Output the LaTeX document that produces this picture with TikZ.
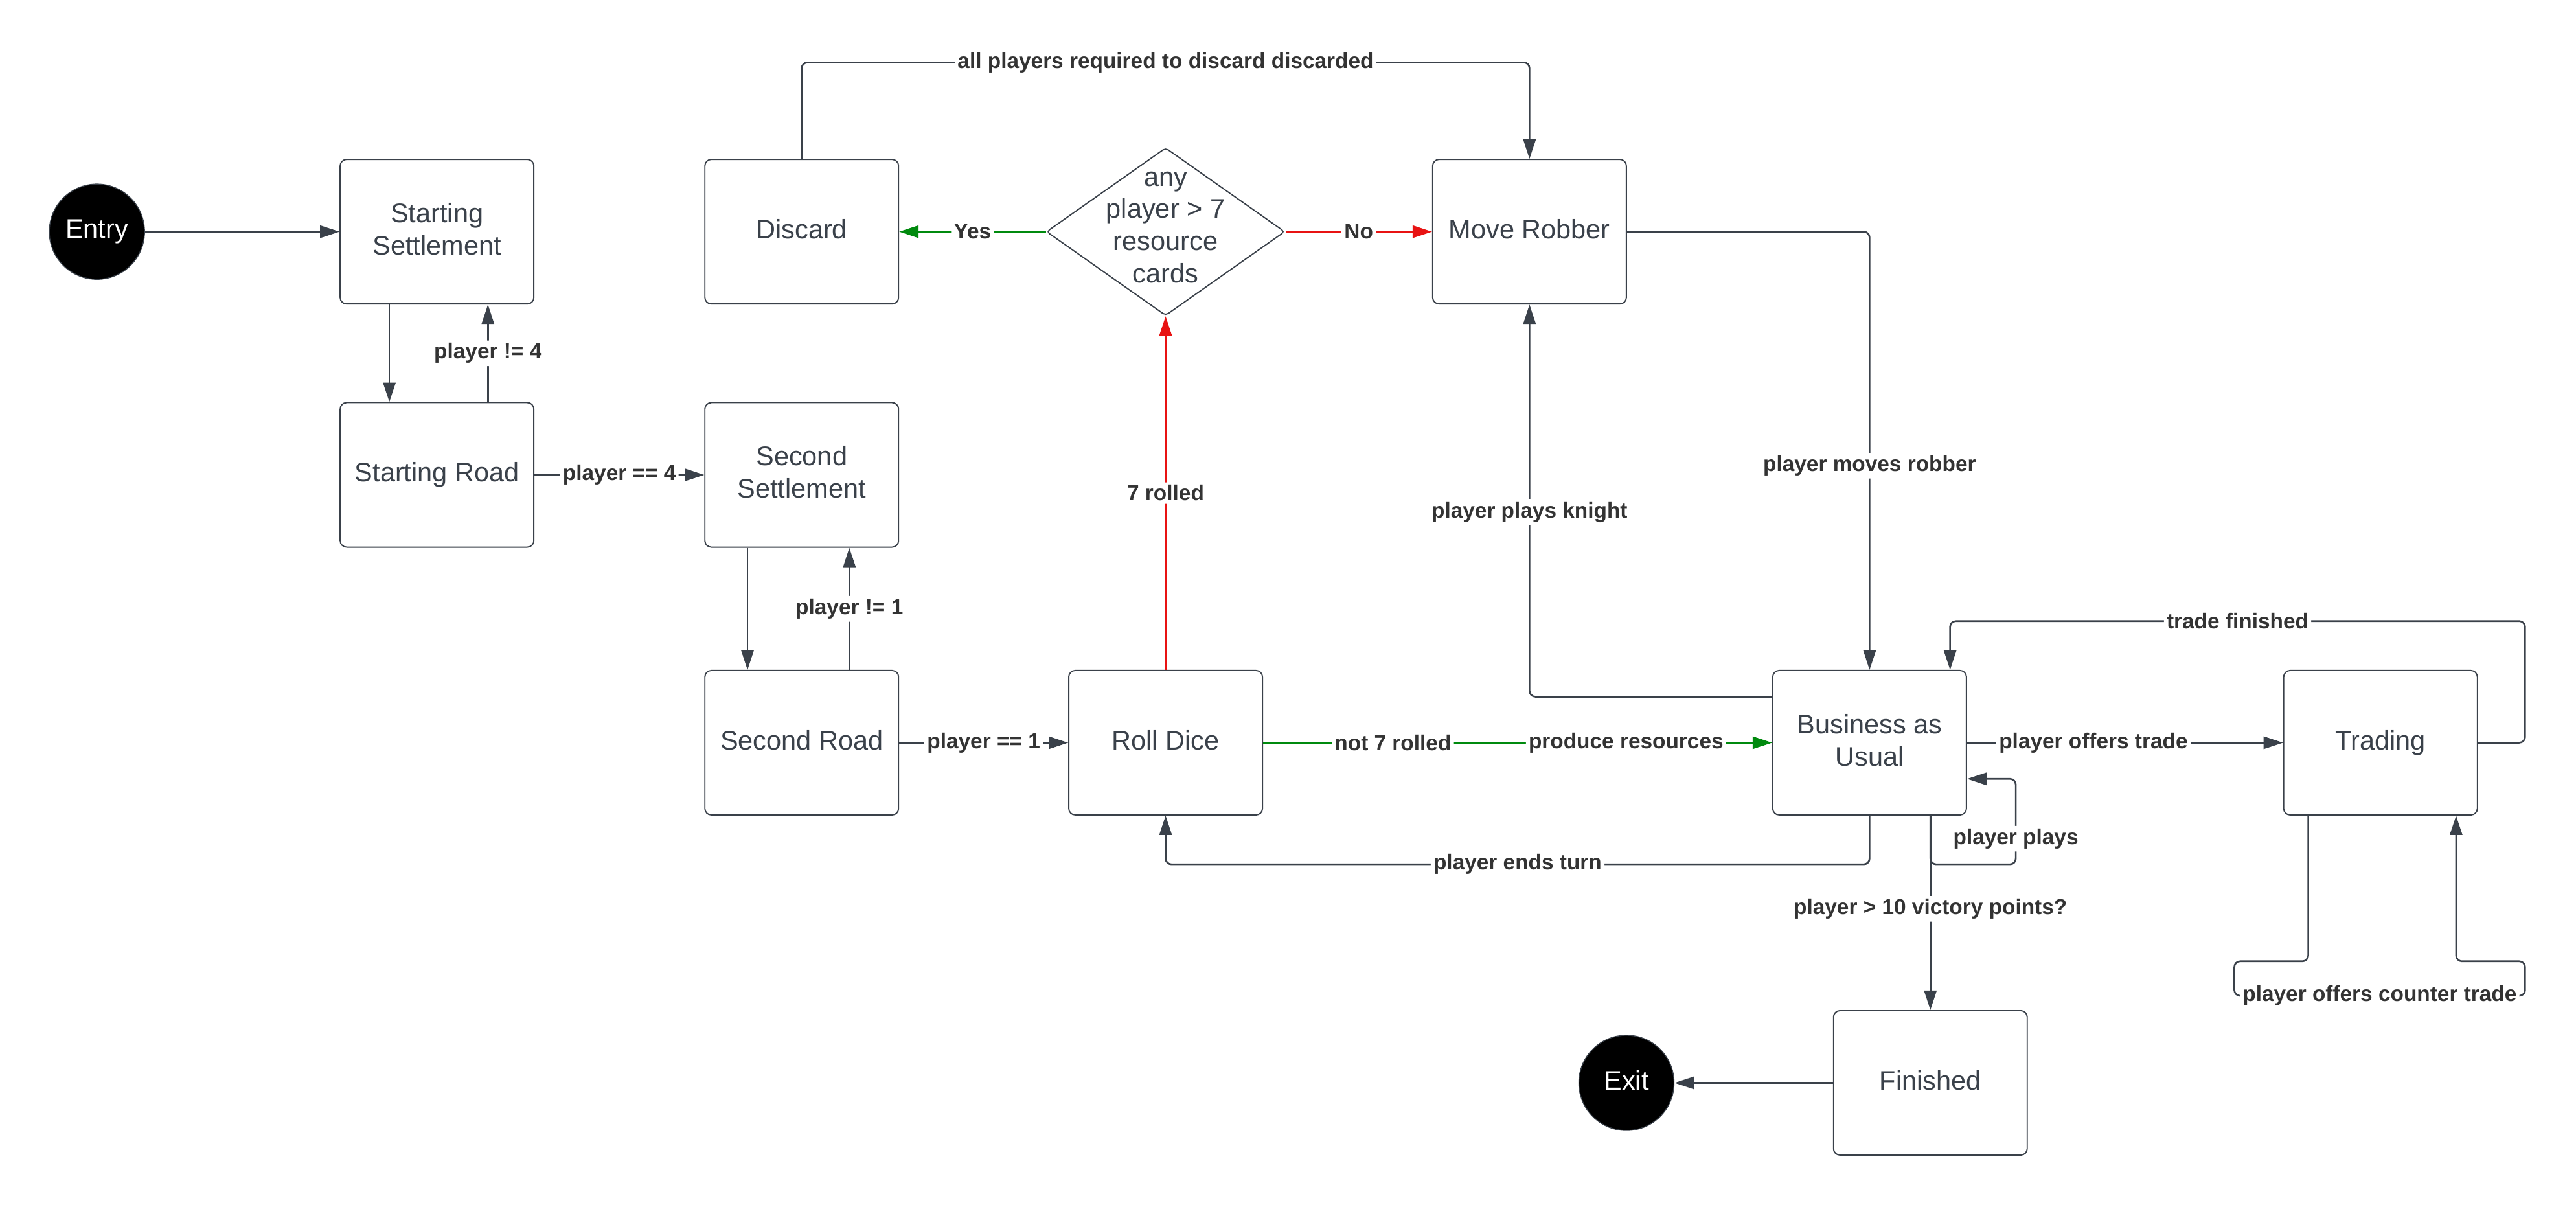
\documentclass[tikz,border=0pt]{standalone}
\usepackage{fontspec}
\setmainfont{Liberation Sans}
\usetikzlibrary{arrows.meta,shapes.geometric}
\definecolor{lc}{HTML}{3A414A}
\definecolor{tc}{HTML}{333333}
\definecolor{yesg}{HTML}{008A0E}
\definecolor{nor}{HTML}{E81313}
\tikzset{
  state/.style={draw=lc, line width=0.55pt, rounded corners=0.1cm, minimum width=2.99cm,
    minimum height=2.23cm, align=center, text=lc, inner sep=2pt, text depth=2.5pt,
    font=\fontsize{11.8}{14.2}\selectfont},
  term/.style={circle, fill=black, draw=lc, line width=0.4pt, minimum size=1.47cm, inner sep=0pt,
    text=white, text depth=2.5pt, font=\fontsize{11.8}{14.2}\selectfont},
  arr/.style={draw=lc, line width=0.75pt, rounded corners=0.09cm,
    -{Triangle[length=0.3cm,width=0.19cm]}},
  lbl/.style={fill=white, text=tc, inner sep=1.2pt, font=\bfseries\fontsize{9.5}{11}\selectfont},
}
\begin{document}
\begin{tikzpicture}[x=0.02536cm, y=-0.02536cm]
\useasboundingbox (0,0) rectangle (1568,733);

% states
\node[term] (entry) at (59,141) {Entry};
\node[state] (ss) at (266,141) {Starting\\Settlement};
\node[state] (sr) at (266,289) {Starting Road};
\node[state] (sset) at (488,289) {Second\\Settlement};
\node[state] (srd) at (488,452) {Second Road};
\node[state] (discard) at (488,141) {Discard};
\node[diamond, draw=lc, line width=0.55pt, rounded corners=0.05cm, inner sep=0pt, aspect=1,
      minimum width=3.68cm, minimum height=2.59cm] (dec) at (709.5,141) {};
\node[align=center, text=lc, text depth=2.5pt, font=\fontsize{11.8}{14.2}\selectfont] (dectext) at (709.5,140) {any\\player > 7\\resource\\cards};
\node[state] (robber) at (931,141) {Move Robber};
\node[state] (roll) at (709.5,452) {Roll Dice};
\node[state] (bau) at (1138,452) {Business as\\Usual};
\node[state] (trading) at (1449,452) {Trading};
\node[state] (finished) at (1175,659) {Finished};
\node[term] (exit) at (990,659) {Exit};

% helper rows
\coordinate (top) at (0,38);
\coordinate (bot) at (0,526);
\coordinate (tf) at (0,378);

% setup phase
\draw[arr] (entry) -- (ss);
\draw[arr] (237,0 |- ss.south) -- (237,0 |- sr.north);
\draw[arr] (297,0 |- sr.north) -- node[lbl]{player != 4} (297,0 |- ss.south);
\draw[arr] (sr) -- node[lbl]{player == 4} (sset);
\draw[arr] (455,0 |- sset.south) -- (455,0 |- srd.north);
\draw[arr] (517,0 |- srd.north) -- node[lbl]{player != 1} (517,0 |- sset.south);
\draw[arr] (srd) -- node[lbl]{player == 1} (roll);

% dice and robber
\draw[arr, draw=nor, -{Triangle[length=0.3cm,width=0.19cm,fill=nor]}] (roll.north) -- node[lbl]{7 rolled} (dec.south);
\draw[arr, draw=yesg, -{Triangle[length=0.3cm,width=0.19cm,fill=yesg]}] (dec.west) -- node[lbl]{Yes} (discard.east);
\draw[arr, draw=nor, -{Triangle[length=0.3cm,width=0.19cm,fill=nor]}] (dec.east) -- node[lbl]{No} (robber.west);
\draw[arr] (discard.north) -- (discard.north |- top) -- node[lbl]{all players required to discard discarded} (robber.north |- top) -- (robber.north);
\draw[arr] (robber.east) -| node[lbl, pos=0.767]{player moves robber} (bau.north);
\draw[arr] (bau.west |- 0,424) -| node[lbl, pos=0.735]{player plays knight} (robber.south);
\draw[arr, draw=yesg, -{Triangle[length=0.3cm,width=0.19cm,fill=yesg]}] (roll) -- node[lbl, pos=0.255]{not 7 rolled} node[lbl, pos=0.713]{produce resources} (bau);
\draw[arr] (bau.south) -- (bau.south |- bot) -- node[lbl]{player ends turn} (roll.south |- bot) -- (roll.south);

% main turn
\draw[arr] (bau.east) -- node[lbl, pos=0.4]{player offers trade} (trading.west);
\draw[arr] (trading.east) -- (1537,452) -- (1537,0 |- tf) -- node[lbl]{trade finished} (1187,0 |- tf) -- (1187,0 |- bau.north);
\draw[arr] (1175,0 |- bau.south) -- (1175,0 |- bot) -- (1227,0 |- bot) -- node[lbl, pos=0.3]{player plays} (1227,474) -- (bau.east |- 0,474);
\draw[arr] (1175,0 |- bau.south) -- node[lbl, pos=0.48]{player > 10 victory points?} (finished.north);
\draw[arr] (finished.west) -- (exit);
\draw[arr] (1405,0 |- trading.south) -- (1405,585) -- (1360,585) -- (1360,606) -- node[lbl]{player offers counter trade} (1537,606) -- (1537,585) -- (1495,585) -- (1495,0 |- trading.south);
\end{tikzpicture}
\end{document}
